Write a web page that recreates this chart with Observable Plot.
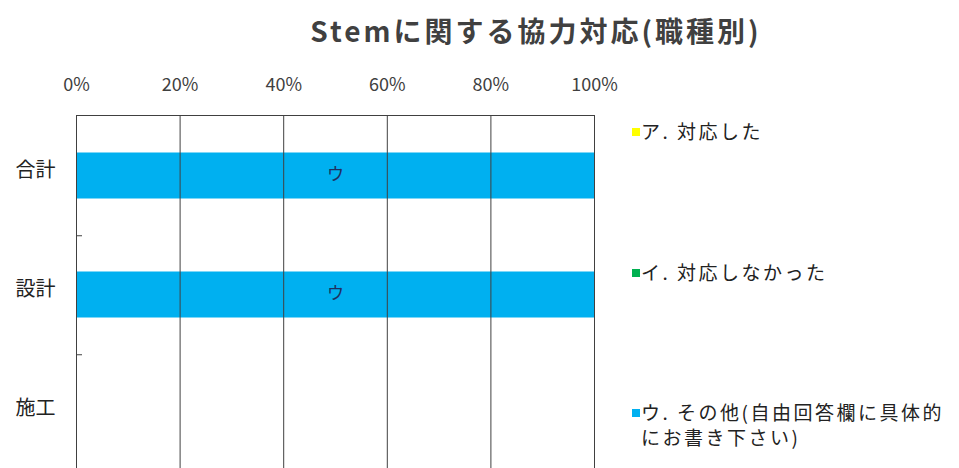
<!DOCTYPE html>
<html>
<head>
<meta charset="utf-8">
<script src="https://cdn.jsdelivr.net/npm/d3@7"></script>
<script src="https://cdn.jsdelivr.net/npm/@observablehq/plot@0.6"></script>
<style>
  html, body { margin: 0; padding: 0; background: #fff; overflow: hidden; }
  #wrap { position: relative; width: 959px; height: 468px; overflow: hidden; font-family: "Noto Sans CJK JP", "Noto Sans", sans-serif; }
  #wrap svg { position: absolute; left: 0; top: 0; }
  #title { position: absolute; left: 0; width: 1072px; top: 10px; text-align: center; font-size: 28px; font-weight: bold; color: #404040; white-space: nowrap; letter-spacing: 3px; }
  .leg { position: absolute; left: 632px; width: 330px; white-space: nowrap; font-size: 19px; color: #222; line-height: 25px; letter-spacing: 2.5px; }
  .leg .sw { display: inline-block; width: 8px; height: 8px; margin-right: 1px; vertical-align: top; margin-top: 10px; }
  .leg .tx { display: inline-block; vertical-align: top; width: 316px; white-space: normal; }
</style>
</head>
<body>
<div id="wrap"><div id="title"></div></div>
<script>
const chartTitle = "Stemに関する協力対応(職種別)";
const categories = ["合計", "設計", "施工"];
const seriesNames = ["ア. 対応した", "イ. 対応しなかった", "ウ. その他(自由回答欄に具体的にお書き下さい)"];
const seriesShort = ["ア", "イ", "ウ"];
const seriesColors = ["#FFFF00", "#00B050", "#00B0F0"];
const valuesA = [0, 0, 0];
const valuesI = [0, 0, 0];
const valuesU = [1, 1, 0];
const xTicks = [0, 0.2, 0.4, 0.6, 0.8, 1];

const seriesValues = [valuesA, valuesI, valuesU];
const rows = [];
categories.forEach((cat, ci) => {
  let acc = 0;
  seriesValues.forEach((vals, si) => {
    const v = vals[ci];
    rows.push({cat, series: seriesNames[si], short: seriesShort[si], x1: acc, x2: acc + v, mid: acc + v / 2, value: v});
    acc += v;
  });
});
const shown = rows.filter(d => d.value > 0);

const bandStep = (477 - 3.5 - 115) / categories.length;

const chart = Plot.plot({
  width: 959,
  height: 477,
  marginLeft: 76,
  marginRight: 365,
  marginTop: 115,
  marginBottom: 3.5,
  style: {fontFamily: "'Noto Sans CJK JP', 'Noto Sans', sans-serif", background: "transparent"},
  x: {domain: [0, 1]},
  y: {domain: categories, padding: 0},
  color: {domain: seriesNames, range: seriesColors},
  marks: [
    Plot.barX(shown, {x1: "x1", x2: "x2", y: "cat", fill: "series", insetTop: 36.5, insetBottom: 36.5}),
    Plot.ruleX(xTicks, {stroke: "#404040", strokeWidth: 1}),
    Plot.frame({stroke: "#404040", strokeWidth: 1}),
    Plot.tickY(categories.slice(0, -1), {y: d => d, dy: bandStep / 2, stroke: "#404040", insetRight: 512}),
    Plot.text(shown, {x: "mid", y: "cat", text: "short", fill: "#1F2F5F", fontSize: 17, dy: -1}),
    Plot.axisX({anchor: "top", ticks: xTicks, tickFormat: d3.format(".0%"), tickSize: 0, tickPadding: 25, fontSize: 18, fill: "#404040", label: null}),
    Plot.axisY({anchor: "left", tickSize: 0, tickPadding: 21, fontSize: 20, fill: "#222", dy: -5, label: null})
  ]
});

const wrap = document.getElementById("wrap");
wrap.insertBefore(chart, wrap.firstChild);
document.getElementById("title").textContent = chartTitle;

const legendTops = [118, 259, 399];
seriesNames.forEach((name, i) => {
  const div = document.createElement("div");
  div.className = "leg";
  div.style.top = legendTops[i] + "px";
  const sw = document.createElement("span");
  sw.className = "sw";
  sw.style.background = seriesColors[i];
  const tx = document.createElement("span");
  tx.className = "tx";
  tx.textContent = name;
  div.appendChild(sw);
  div.appendChild(tx);
  wrap.appendChild(div);
});
</script>
</body>
</html>
